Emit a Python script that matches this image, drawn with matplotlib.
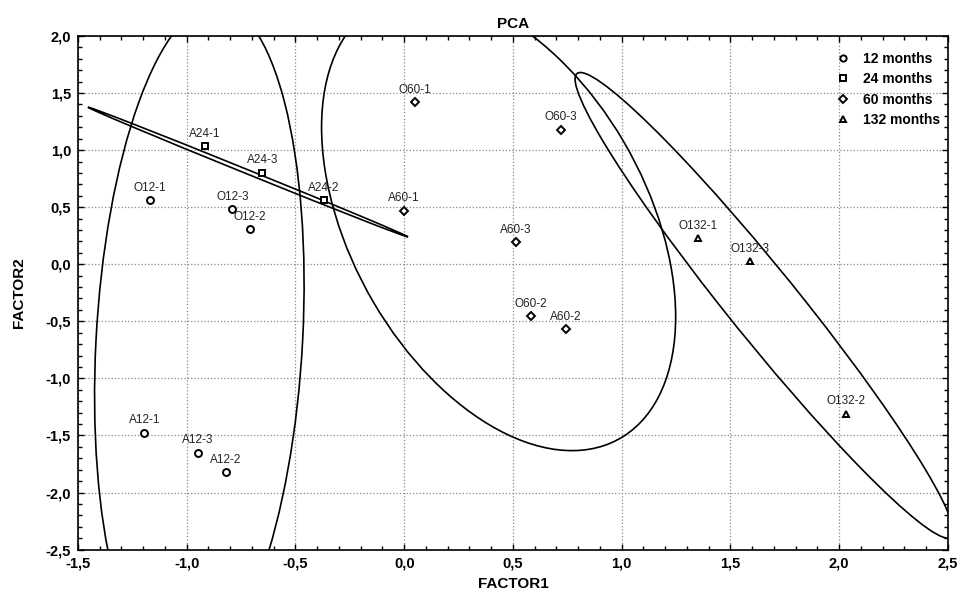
import numpy as np
import matplotlib
matplotlib.use("Agg")
import matplotlib.pyplot as plt
from matplotlib.patches import Circle
from matplotlib.transforms import Affine2D
from matplotlib.ticker import MultipleLocator, FuncFormatter
from matplotlib.lines import Line2D

plt.rcParams['font.family'] = ['Liberation Sans', 'DejaVu Sans']

# --- data ---
names = ["O12-1", "O12-2", "O12-3", "A12-1", "A12-2", "A12-3",
         "A24-1", "A24-2", "A24-3",
         "O60-1", "O60-2", "O60-3", "A60-1", "A60-2", "A60-3",
         "O132-1", "O132-2", "O132-3"]
factor1 = [-1.17, -0.71, -0.79, -1.195, -0.82, -0.95,
           -0.915, -0.37, -0.653,
           0.049, 0.581, 0.721, 0.0, 0.744, 0.512,
           1.351, 2.032, 1.589]
factor2 = [0.561, 0.31, 0.482, -1.475, -1.822, -1.65,
           1.036, 0.563, 0.802,
           1.421, -0.457, 1.18, 0.47, -0.568, 0.196,
           0.23, -1.309, 0.03]
groups = ["12 months"] * 6 + ["24 months"] * 3 + ["60 months"] * 6 + ["132 months"] * 3

group_names = ["12 months", "24 months", "60 months", "132 months"]
group_markers = ["o", "s", "D", "^"]

# confidence ellipses: centre and two conjugate semi-diameters (data units)
ell_center = [(-0.942, -0.665), (-0.7185, 0.808), (0.434, 0.37), (1.655, -0.36)]
ell_u = [(0.475, 0.0), (0.7355, -0.568), (0.814, -0.83), (-0.845, 2.04)]
ell_v = [(0.08, 2.94), (0.0035, 0.017), (0.0, 1.823), (0.205, 0.0)]

fig = plt.figure(figsize=(9.59, 5.96), dpi=100)
ax = fig.add_axes([0.0813, 0.0779, 0.9072, 0.8617])

ax.set_xlim(-1.5, 2.5)
ax.set_ylim(-2.5, 2.0)

# ellipses
for c, u, v in zip(ell_center, ell_u, ell_v):
    m = Affine2D(np.array([[u[0], v[0], c[0]], [u[1], v[1], c[1]], [0, 0, 1]]))
    circ = Circle((0, 0), 1, transform=m + ax.transData, fill=False,
                  edgecolor='black', linewidth=1.2, zorder=2)
    ax.add_patch(circ)

# points
for g, mk in zip(group_names, group_markers):
    xs = [x for x, gg in zip(factor1, groups) if gg == g]
    ys = [y for y, gg in zip(factor2, groups) if gg == g]
    ms = 4.2 if mk == "D" else 5
    ax.plot(xs, ys, linestyle='none', marker=mk, markersize=ms,
            markerfacecolor='white', markeredgecolor='black',
            markeredgewidth=1.4, zorder=3)

for n, x, y in zip(names, factor1, factor2):
    ax.annotate(n, (x, y), xytext=(0, 4.5), textcoords='offset points',
                ha='center', va='bottom', fontsize=8.5, color='#222222', zorder=4)

# axes styling
fmt = FuncFormatter(lambda v, p: f"{v:.1f}".replace('.', ','))
ax.xaxis.set_major_locator(MultipleLocator(0.5))
ax.yaxis.set_major_locator(MultipleLocator(0.5))
ax.xaxis.set_minor_locator(MultipleLocator(0.1))
ax.yaxis.set_minor_locator(MultipleLocator(0.1))
ax.xaxis.set_major_formatter(fmt)
ax.yaxis.set_major_formatter(fmt)
ax.tick_params(which='both', direction='in', top=True, right=True, width=1)
ax.tick_params(which='major', length=4, labelsize=10.5)
ax.tick_params(axis='x', which='major', pad=5)
ax.tick_params(axis='y', which='major', pad=5)
ax.tick_params(which='minor', length=3)
for lab in ax.get_xticklabels() + ax.get_yticklabels():
    lab.set_fontweight('bold')
for s in ax.spines.values():
    s.set_linewidth(1.2)

ax.grid(True, which='major', linestyle=':', color='#888888', linewidth=0.9)
ax.set_axisbelow(True)

ax.set_xlabel("FACTOR1", fontsize=11, fontweight='bold', labelpad=5)
ax.set_ylabel("FACTOR2", fontsize=11, fontweight='bold', labelpad=14)
ax.set_title("PCA", fontsize=11, fontweight='bold', pad=6)

handles = [Line2D([], [], linestyle='none', marker=mk, markersize=4.5 if mk != "D" else 4,
                  markerfacecolor='white', markeredgecolor='black', markeredgewidth=1.4)
           for mk in group_markers]
leg = ax.legend(handles, group_names, loc='upper right', frameon=False,
                bbox_to_anchor=(1.0, 0.985), handletextpad=0.9,
                labelspacing=0.45, handlelength=1.0, borderaxespad=0.2,
                prop={'weight': 'bold', 'size': 10})

fig.savefig("out.png", dpi=100)
